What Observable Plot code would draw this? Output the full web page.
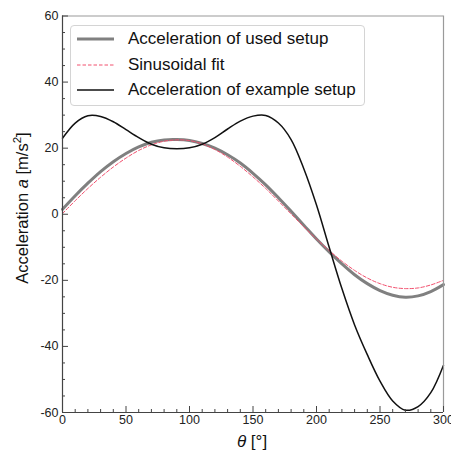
<!DOCTYPE html>
<html>
<head>
<meta charset="utf-8">
<script src="https://cdn.jsdelivr.net/npm/d3@7"></script>
<script src="https://cdn.jsdelivr.net/npm/@observablehq/plot@0.6"></script>
<style>
  body { margin: 0; background: #fff; }
  #wrap { position: relative; width: 451px; height: 452px; font-family: "Liberation Sans", Arial, sans-serif; color: #111; }
  #wrap svg { display: block; }
  .ylab { position: absolute; left: 22px; top: 208px; transform: translate(-50%, -50%) rotate(-90deg); white-space: nowrap; font-size: 16.5px; }
  .xlab { position: absolute; left: 252px; top: 432px; transform: translateX(-50%); white-space: nowrap; font-size: 17px; }
  .legend { position: absolute; left: 70px; top: 25px; width: 295px; height: 81px; border: 1px solid #d4d4d4; border-radius: 4px; background: rgba(255,255,255,0.85); box-sizing: border-box; }
  .legend .row { position: absolute; left: 0; height: 20px; display: flex; align-items: center; font-size: 17px; white-space: nowrap; }
  .legend svg { margin-left: 6px; margin-right: 14px; }
  sup { font-size: 0.7em; line-height: 0; }
</style>
</head>
<body>
<div id="wrap"></div>
<script>
// ---- data ----
const theta = [0,10,20,30,40,50,60,70,80,90,100,110,120,130,140,150,160,170,180,190,200,210,220,230,240,250,260,270,280,290,300];
const usedSetup = [1.5,5.6,9.4,12.9,15.9,18.4,20.4,21.8,22.5,22.6,22.3,21.4,20.0,18.0,15.5,12.4,8.9,5.0,0.9,-3.3,-7.5,-11.4,-15.0,-18.3,-21.0,-23.1,-24.5,-25.1,-24.7,-23.4,-21.3];
const sinusoidalFit = [0.2,4.1,7.8,11.2,14.3,17.0,19.3,21.0,22.1,22.5,22.3,21.3,19.6,17.3,14.5,11.3,7.8,4.0,0.1,-3.8,-7.5,-11.0,-14.2,-17.0,-19.3,-21.0,-22.1,-22.5,-22.3,-21.4,-20.0];
const exampleSetup = [23.0,27.6,29.8,29.6,28.0,25.6,23.2,21.2,20.1,19.8,20.1,21.2,23.2,25.8,28.2,29.7,29.9,27.6,22.6,13.8,2.8,-10.0,-22.5,-33.5,-42.5,-50.5,-56.5,-59.3,-58.2,-54.0,-45.7];

const seriesNames = ["Acceleration of used setup", "Sinusoidal fit", "Acceleration of example setup"];
const xMajorTicks = [0,50,100,150,200,250,300];
const xMinorTicks = [10,20,30,40,60,70,80,90,110,120,130,140,160,170,180,190,210,220,230,240,260,270,280,290];
const yMajorTicks = [-60,-40,-20,0,20,40,60];
const yMinorTicks = [-55,-50,-45,-35,-30,-25,-15,-10,-5,5,10,15,25,30,35,45,50,55];
const xDomain = [0, 300];
const yDomain = [-60, 60];

const rows = theta.map((t, i) => ({theta: t, used: usedSetup[i], fit: sinusoidalFit[i], example: exampleSetup[i]}));

const styles = {
  used: {stroke: "#808080", strokeWidth: 3, dash: null},
  fit: {stroke: "#f2506e", strokeWidth: 1, dash: "3.5,2"},
  example: {stroke: "#111111", strokeWidth: 1.5, dash: null}
};

const blank = () => "";
const plot = Plot.plot({
  width: 451,
  height: 452,
  marginLeft: 62,
  marginRight: 8,
  marginTop: 15.5,
  marginBottom: 40,
  x: {domain: xDomain},
  y: {domain: yDomain},
  style: {fontFamily: "'Liberation Sans', Arial, sans-serif", fontSize: "12px", color: "#222", background: "#fff", overflow: "visible"},
  marks: [
    Plot.line(rows, {x: "theta", y: "used", stroke: styles.used.stroke, strokeWidth: styles.used.strokeWidth, curve: "catmull-rom"}),
    Plot.line(rows, {x: "theta", y: "fit", stroke: styles.fit.stroke, strokeWidth: styles.fit.strokeWidth, strokeDasharray: styles.fit.dash, curve: "catmull-rom"}),
    Plot.line(rows, {x: "theta", y: "example", stroke: styles.example.stroke, strokeWidth: styles.example.strokeWidth, curve: "catmull-rom"}),
    // spines
    Plot.ruleY([yDomain[1]], {stroke: "#9a9a9a", strokeWidth: 1.2}),
    Plot.ruleX([xDomain[1]], {stroke: "#9a9a9a", strokeWidth: 1.2}),
    Plot.ruleY([yDomain[0]], {stroke: "#444", strokeWidth: 1.2}),
    Plot.ruleX([xDomain[0]], {stroke: "#444", strokeWidth: 1.2}),
    // inward ticks
    Plot.axisX({ticks: xMajorTicks, tickSize: 6, dy: -6, tickFormat: blank, label: null, stroke: "#444"}),
    Plot.axisX({ticks: xMinorTicks, tickSize: 3, dy: -3, tickFormat: blank, label: null, stroke: "#444"}),
    Plot.axisY({ticks: yMajorTicks, tickSize: 6, dx: 6, tickFormat: blank, label: null, stroke: "#444"}),
    Plot.axisY({ticks: yMinorTicks, tickSize: 3, dx: 3, tickFormat: blank, label: null, stroke: "#444"}),
    // tick labels
    Plot.axisX({ticks: xMajorTicks, tickSize: 0, tickPadding: 3, tickFormat: d => String(d), label: null, fontSize: 12.5, fill: "#222"}),
    Plot.axisY({ticks: yMajorTicks, tickSize: 0, tickPadding: 4, tickFormat: d => String(d), label: null, fontSize: 12.5, fill: "#222"})
  ]
});

const wrap = document.getElementById("wrap");
wrap.appendChild(plot);

// axis titles
const ylab = document.createElement("div");
ylab.className = "ylab";
ylab.innerHTML = "Acceleration <i>a</i> [m/s<sup>2</sup>]";
wrap.appendChild(ylab);
const xlab = document.createElement("div");
xlab.className = "xlab";
xlab.innerHTML = "<i>θ</i> [°]";
wrap.appendChild(xlab);

// legend
const legend = document.createElement("div");
legend.className = "legend";
const keys = ["used", "fit", "example"];
keys.forEach((k, i) => {
  const row = document.createElement("div");
  row.className = "row";
  row.style.top = (3 + i * 25.5) + "px";
  const s = styles[k];
  row.innerHTML = `<svg width="37" height="20"><line x1="0" x2="37" y1="10" y2="10" stroke="${s.stroke}" stroke-width="${s.strokeWidth}" ${s.dash ? `stroke-dasharray="${s.dash}"` : ""}/></svg><span>${seriesNames[i]}</span>`;
  legend.appendChild(row);
});
wrap.appendChild(legend);
</script>
</body>
</html>
